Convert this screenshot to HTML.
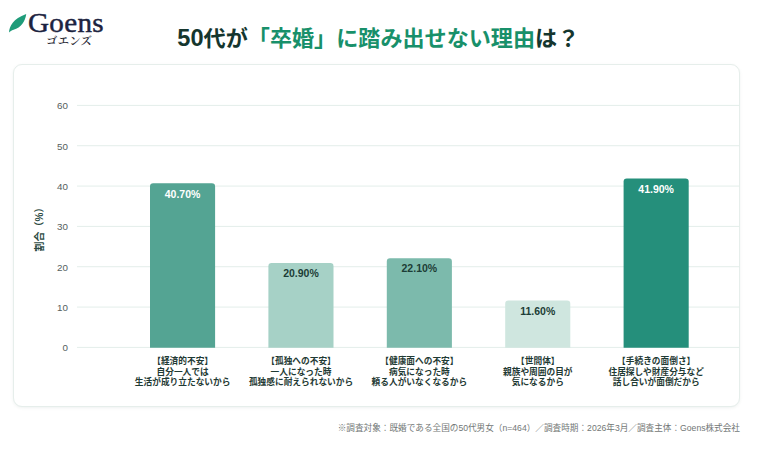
<!DOCTYPE html>
<html lang="ja">
<head>
<meta charset="utf-8">
<title>50代が「卒婚」に踏み出せない理由は？</title>
<style>
html,body{margin:0;padding:0;}
body{width:757px;height:450px;position:relative;overflow:hidden;background:#ffffff;
  font-family:"Liberation Sans","Noto Sans CJK JP",sans-serif;color:#1f3a34;}
.abs{position:absolute;}
.logo-text{left:28px;top:5.4px;font-family:"Liberation Serif","Noto Serif CJK JP","Noto Serif CJK SC",serif;
  font-size:28px;line-height:36px;color:#1c2340;letter-spacing:0.3px;white-space:nowrap;-webkit-text-stroke:0.45px #1c2340;transform:scaleX(1.04);transform-origin:0 0;}
.logo-kana{left:46px;top:34px;font-family:"Liberation Serif","Noto Serif CJK JP","Noto Serif CJK SC",serif;
  font-size:11.3px;line-height:14px;color:#2a2a35;letter-spacing:0.35px;white-space:nowrap;font-weight:600;}
.title{left:-0.2px;top:21px;width:757px;text-align:center;font-size:22.1px;line-height:34px;font-weight:700;color:#15362e;white-space:nowrap;}
.title .dg{font-size:23.6px;font-weight:700;}
.title span{color:#18906a;}
.card{left:13px;top:63.5px;width:727px;height:343.5px;border:1px solid #e6eeeb;border-radius:9px;box-sizing:border-box;background:#fff;
  box-shadow:0 1px 3px rgba(120,150,140,0.12);}
.grid{left:77px;width:662.5px;height:1px;background:#e5efec;}
.ytick{left:40px;width:28px;text-align:right;font-size:9.8px;line-height:12px;color:#55605d;}
.ytitle{left:40.2px;top:227.3px;font-size:10px;line-height:12px;font-weight:700;color:#2b4a42;white-space:nowrap;
  transform:translate(-50%,-50%) rotate(-90deg);}
.bar{width:65.1px;border-radius:3px 3px 0 0;}
.val{width:65.1px;text-align:center;font-size:10.5px;line-height:12px;font-weight:700;}
.cat{width:160px;text-align:center;font-size:8.7px;line-height:10.5px;font-weight:700;color:#1f3a34;white-space:nowrap;top:355.5px;}
.l2{position:relative;top:1px;}
.foot{right:17px;top:420.5px;font-size:8.63px;line-height:14px;color:#727776;white-space:nowrap;}
</style>
</head>
<body>
<svg class="abs" style="left:8px;top:12.8px" width="20" height="22" viewBox="0 0 20 22">
  <path d="M1 19.6 C1.3 13 5 5.8 18.2 0.9 C17.6 7.6 13 14.8 5.6 16.7 C3.6 17.4 2 18.5 1 19.6 Z" fill="#1f9c7a"/>
</svg>
<div class="abs logo-text">Goens</div>
<div class="abs logo-kana">ゴエンズ</div>
<div class="abs title"><b class="dg">50</b>代が<span>「卒婚」に踏み出せない理由</span>は？</div>

<div class="abs card"></div>


<svg class="abs" style="left:0;top:0" width="757" height="450" viewBox="0 0 757 450">
 <g stroke="#e3eeea" stroke-width="1">
  <line x1="77" x2="739.5" y1="105.40" y2="105.40"/>
  <line x1="77" x2="739.5" y1="145.73" y2="145.73"/>
  <line x1="77" x2="739.5" y1="186.07" y2="186.07"/>
  <line x1="77" x2="739.5" y1="226.40" y2="226.40"/>
  <line x1="77" x2="739.5" y1="266.73" y2="266.73"/>
  <line x1="77" x2="739.5" y1="307.07" y2="307.07"/>
  <line x1="77" x2="739.5" y1="347.40" y2="347.40"/>
 </g>
  <path d="M150.00 347.70 V186.44 Q150.00 183.24 153.20 183.24 H211.90 Q215.10 183.24 215.10 186.44 V347.70 Z" fill="#54a493"/>
  <path d="M268.40 347.70 V266.30 Q268.40 263.10 271.60 263.10 H330.30 Q333.50 263.10 333.50 266.30 V347.70 Z" fill="#a6d1c6"/>
  <path d="M386.80 347.70 V261.46 Q386.80 258.26 390.00 258.26 H448.70 Q451.90 258.26 451.90 261.46 V347.70 Z" fill="#7cbaac"/>
  <path d="M505.20 347.70 V303.81 Q505.20 300.61 508.40 300.61 H567.10 Q570.30 300.61 570.30 303.81 V347.70 Z" fill="#cfe6df"/>
  <path d="M623.60 347.70 V181.60 Q623.60 178.40 626.80 178.40 H685.50 Q688.70 178.40 688.70 181.60 V347.70 Z" fill="#258f7b"/>
</svg>
<div class="abs ytick" style="top:100.30px">60</div>
<div class="abs ytick" style="top:140.63px">50</div>
<div class="abs ytick" style="top:180.97px">40</div>
<div class="abs ytick" style="top:221.30px">30</div>
<div class="abs ytick" style="top:261.63px">20</div>
<div class="abs ytick" style="top:301.97px">10</div>
<div class="abs ytick" style="top:342.30px">0</div>

<div class="abs ytitle">割合（%）</div>


<div class="abs val" style="left:150px;top:187.5px;color:#fff">40.70%</div>
<div class="abs val" style="left:268.4px;top:267.4px;color:#1c3d36">20.90%</div>
<div class="abs val" style="left:386.8px;top:262.4px;color:#1c3d36">22.10%</div>
<div class="abs val" style="left:505.2px;top:304.8px;color:#1c3d36">11.60%</div>
<div class="abs val" style="left:623.6px;top:182.6px;color:#fff">41.90%</div>

<div class="abs cat" style="left:102.6px">【経済的不安】<br><span class="l2">自分一人では</span><br>生活が成り立たないから</div>
<div class="abs cat" style="left:221px">【孤独への不安】<br><span class="l2">一人になった時</span><br>孤独感に耐えられないから</div>
<div class="abs cat" style="left:339.4px">【健康面への不安】<br><span class="l2">病気になった時</span><br>頼る人がいなくなるから</div>
<div class="abs cat" style="left:457.8px">【世間体】<br><span class="l2">親族や周囲の目が</span><br>気になるから</div>
<div class="abs cat" style="left:576.2px">【手続きの面倒さ】<br><span class="l2">住居探しや財産分与など</span><br>話し合いが面倒だから</div>

<div class="abs foot">※調査対象：既婚である全国の50代男女（n=464）／調査時期：2026年3月／調査主体：Goens株式会社</div>
</body>
</html>
